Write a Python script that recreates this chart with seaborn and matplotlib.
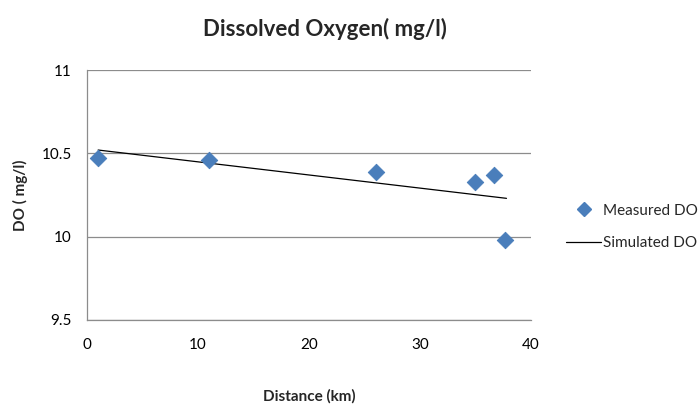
import matplotlib
matplotlib.use("Agg")
import matplotlib.pyplot as plt
import seaborn as sns
import pandas as pd
from matplotlib.lines import Line2D
from matplotlib import font_manager

distance_measured = [1.0, 11.0, 26.0, 35.0, 36.7, 37.7]
do_measured = [10.47, 10.46, 10.39, 10.33, 10.37, 9.98]
distance_sim = [1.0, 37.8]
do_sim = [10.52, 10.23]
x_ticks = [0, 10, 20, 30, 40]
y_ticks = [9.5, 10, 10.5, 11]
y_tick_labels = ["9.5", "10", "10.5", "11"]

sns.set_theme(style="white")
plt.rcParams['font.family'] = ['Lato', 'DejaVu Sans']

names = {f.name for f in font_manager.fontManager.ttflist}
legend_family = ['Liberation Sans Narrow', 'Lato'] if 'Liberation Sans Narrow' in names else ['Lato']

fig = plt.figure(figsize=(6.99, 4.05), dpi=100)
ax = fig.add_axes([0.1245, 0.21, 0.635, 0.617])

df_m = pd.DataFrame({"x": distance_measured, "y": do_measured})
df_s = pd.DataFrame({"x": distance_sim, "y": do_sim})

sns.lineplot(data=df_s, x="x", y="y", ax=ax, color="black", linewidth=0.9, zorder=3)
sns.scatterplot(data=df_m, x="x", y="y", ax=ax, marker="D", s=70, color="#4a7ebb",
                edgecolor="#4a7ebb", zorder=4)

ax.set_xlim(0, 40)
ax.set_ylim(9.5, 11)
ax.set_xticks(x_ticks)
ax.set_yticks(y_ticks)
ax.set_yticklabels(y_tick_labels)
ax.yaxis.grid(True, color="#8c8c8c", linewidth=0.9)
ax.xaxis.grid(False)
for s in ["top", "right"]:
    ax.spines[s].set_visible(False)
for s in ["left", "bottom"]:
    ax.spines[s].set_color("#8c8c8c")
    ax.spines[s].set_linewidth(0.9)
ax.tick_params(axis="both", direction="out", length=5, width=0.9, color="#8c8c8c",
               labelsize=11, colors="#8c8c8c", labelcolor="black", pad=6)
ax.tick_params(axis="x", pad=8)

ax.set_xlabel("Distance (km)", fontsize=11, fontweight="bold", labelpad=27)
ax.set_ylabel("DO ( mg/l)", fontsize=11, fontweight="bold", labelpad=10)
fig.suptitle("Dissolved Oxygen( mg/l)", x=0.465, y=0.955, fontsize=16, fontweight="bold")

handles = [
    Line2D([], [], marker="D", linestyle="none", color="#4a7ebb", markersize=7),
    Line2D([], [], color="black", linewidth=0.9),
]
fig.legend(handles, ["Measured DO", "Simulated DO"], loc="center left",
           bbox_to_anchor=(0.81, 0.44), frameon=False,
           prop={"family": legend_family, "size": 11},
           handlelength=2.3, handletextpad=0.1, labelspacing=1.2, borderaxespad=0, borderpad=0)

fig.savefig("out.png", dpi=100)
